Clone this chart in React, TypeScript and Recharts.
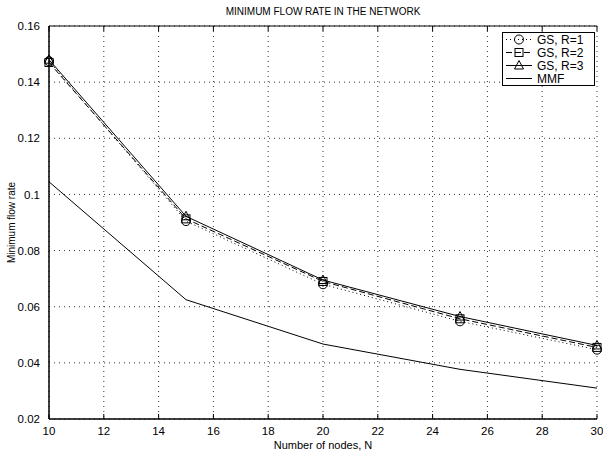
import React from "react";
import { LineChart, Line, XAxis, YAxis, CartesianGrid, Legend } from "recharts";

const nodes = [10, 15, 20, 25, 30];
const gsR1 = [0.1475, 0.0905, 0.068, 0.0548, 0.0447];
const gsR2 = [0.147, 0.0913, 0.069, 0.0557, 0.0455];
const gsR3 = [0.148, 0.0922, 0.0695, 0.0565, 0.0462];
const mmf = [0.1045, 0.0625, 0.0467, 0.0377, 0.031];
const xTicks = [10, 12, 14, 16, 18, 20, 22, 24, 26, 28, 30];
const yTicks = [0.02, 0.04, 0.06, 0.08, 0.1, 0.12, 0.14, 0.16];
const seriesNames = ["GS, R=1", "GS, R=2", "GS, R=3", "MMF"];

const data = nodes.map((n, i) => ({ n, r1: gsR1[i], r2: gsR2[i], r3: gsR3[i], mmf: mmf[i] }));

const FONT = "'Liberation Sans', Arial, Helvetica, sans-serif";

const CircleDot = (p: any) => (
  <circle cx={p.cx} cy={p.cy} r={4.5} fill="none" stroke="#000" strokeWidth={1} />
);
const SquareDot = (p: any) => (
  <rect x={p.cx - 4} y={p.cy - 4} width={8} height={8} fill="none" stroke="#000" strokeWidth={1} />
);
const TriDot = (p: any) => (
  <polygon
    points={`${p.cx},${p.cy - 5} ${p.cx - 4.5},${p.cy + 3.5} ${p.cx + 4.5},${p.cy + 3.5}`}
    fill="none"
    stroke="#000"
    strokeWidth={1}
  />
);

const Empty = () => <g />;

const LegendBox = () => {
  const rows = [
    { dash: "1 3", m: "c" },
    { dash: "6 3", m: "s" },
    { dash: undefined, m: "t" },
    { dash: undefined, m: "" },
  ];
  return (
    <svg width={93} height={54} style={{ display: "block" }}>
      <rect x={0.5} y={0.5} width={92} height={53} fill="#fff" stroke="#000" />
      {rows.map((r, i) => {
        const y = 7.5 + i * 13;
        return (
          <g key={i}>
            <line x1={4} x2={30} y1={y} y2={y} stroke="#000" strokeDasharray={r.dash} />
            {r.m === "c" && <CircleDot cx={17} cy={y} />}
            {r.m === "s" && <SquareDot cx={17} cy={y} />}
            {r.m === "t" && <TriDot cx={17} cy={y} />}
            <text x={35} y={y + 4.3} fontSize={12} fontFamily={FONT} fill="#000">
              {seriesNames[i]}
            </text>
          </g>
        );
      })}
    </svg>
  );
};

const fmt = (v: number) => String(+v.toFixed(2));

export default function App() {
  return (
    <div style={{ position: "absolute", left: 0, top: 0, width: 603, height: 451, background: "#fff" }}>
      <LineChart width={603} height={451} data={data} margin={{ top: 26, right: 6, bottom: 0, left: 0 }}>
        <text x={323} y={15} textAnchor="middle" fontSize={10} fontFamily={FONT} fill="#000">
          MINIMUM FLOW RATE IN THE NETWORK
        </text>
        <CartesianGrid stroke="#333" strokeDasharray="1 4" />
        <XAxis
          dataKey="n"
          type="number"
          domain={[10, 30]}
          ticks={xTicks}
          height={32}
          tickLine={false}
          axisLine={{ stroke: "#000", strokeWidth: 1.5 }}
          tick={{ fontSize: 11.5, fontFamily: FONT, fill: "#000" }}
          tickMargin={2}
          label={{ value: "Number of nodes, N", position: "insideBottom", offset: 2, fontSize: 11, fontFamily: FONT, fill: "#000" }}
        />
        <XAxis xAxisId="inB" dataKey="n" type="number" domain={[10, 30]} ticks={xTicks} mirror axisLine={false} tick={Empty} tickLine={{ stroke: "#000" }} tickSize={5} />
        <XAxis xAxisId="top" orientation="top" dataKey="n" type="number" domain={[10, 30]} ticks={xTicks} mirror axisLine={{ stroke: "#000" }} tick={Empty} tickLine={{ stroke: "#000" }} tickSize={5} />
        <YAxis
          type="number"
          domain={[0.02, 0.16]}
          ticks={yTicks}
          width={49}
          tickLine={false}
          axisLine={{ stroke: "#000", strokeWidth: 1.5 }}
          tick={{ fontSize: 11.5, fontFamily: FONT, fill: "#000" }}
          tickFormatter={fmt}
          tickMargin={3}
          label={{ value: "Minimum flow rate", angle: -90, position: "insideLeft", offset: 11, fontSize: 10, fontFamily: FONT, fill: "#000", style: { textAnchor: "middle" } }}
        />
        <YAxis yAxisId="inL" type="number" domain={[0.02, 0.16]} ticks={yTicks} mirror axisLine={false} tick={Empty} tickLine={{ stroke: "#000" }} tickSize={5} />
        <YAxis yAxisId="right" orientation="right" type="number" domain={[0.02, 0.16]} ticks={yTicks} mirror width={0} axisLine={{ stroke: "#000" }} tick={Empty} tickLine={{ stroke: "#000" }} tickSize={5} />
        <Line dataKey="mmf" stroke="#000" strokeWidth={1} dot={false} isAnimationActive={false} />
        <Line dataKey="r1" stroke="#000" strokeWidth={1} strokeDasharray="1 3" dot={<CircleDot />} isAnimationActive={false} />
        <Line dataKey="r2" stroke="#000" strokeWidth={1} strokeDasharray="6 3" dot={<SquareDot />} isAnimationActive={false} />
        <Line dataKey="r3" stroke="#000" strokeWidth={1} dot={<TriDot />} isAnimationActive={false} />
        <Legend
          layout="vertical"
          align="center"
          verticalAlign="middle"
          wrapperStyle={{ position: "absolute", left: 502, top: 32, width: 93, height: 54 }}
          content={() => <LegendBox />}
        />
      </LineChart>
    </div>
  );
}
